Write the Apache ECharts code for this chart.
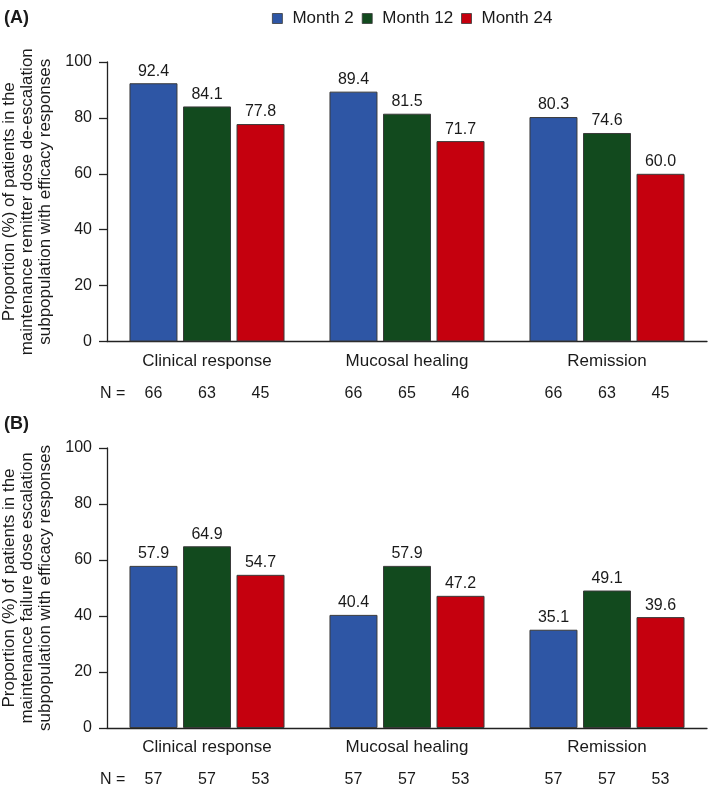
<!DOCTYPE html>
<html>
<head>
<meta charset="utf-8">
<script src="https://cdn.jsdelivr.net/npm/echarts@6/dist/echarts.min.js"></script>
<style>
html,body{margin:0;padding:0;background:#fff;}
#chart{width:709px;height:790px;}
</style>
</head>
<body>
<div id="chart"></div>
<script>
// ---- data ----
var categories = ['Clinical response', 'Mucosal healing', 'Remission'];
var seriesNames = ['Month 2', 'Month 12', 'Month 24'];
var yTicks = [0, 20, 40, 60, 80, 100];

var aMonth2  = [92.4, 89.4, 80.3];
var aMonth12 = [84.1, 81.5, 74.6];
var aMonth24 = [77.8, 71.7, 60.0];
var aN2  = [66, 66, 66];
var aN12 = [63, 65, 63];
var aN24 = [45, 46, 45];

var bMonth2  = [57.9, 40.4, 35.1];
var bMonth12 = [64.9, 57.9, 49.1];
var bMonth24 = [54.7, 47.2, 39.6];
var bN2  = [57, 57, 57];
var bN12 = [57, 57, 57];
var bN24 = [53, 53, 53];

var titleA = 'Proportion (%) of patients in the\nmaintenance remitter dose de-escalation\nsubpopulation with efficacy responses';
var titleB = 'Proportion (%) of patients in the\nmaintenance failure dose escalation\nsubpopulation with efficacy responses';

// ---- style ----
var FONT = '"Liberation Sans", Arial, Helvetica, sans-serif';
var TXT = '#1a1a1a';
var colors = ['#2E56A5', '#124A1E', '#C5000E'];
var BAR_W = 48, BAR_GAP = '11.5%';

var chart = echarts.init(document.getElementById('chart'), null, {renderer: 'canvas'});

function mkX(grid, show) {
  return {
    type: 'category', gridIndex: grid, data: categories, show: show,
    axisLine: {show: true, lineStyle: {color: '#222', width: 1.3}},
    axisTick: {show: false},
    axisLabel: {show: show, margin: 11, fontSize: 17, color: TXT, fontFamily: FONT}
  };
}
function mkY(grid, name) {
  return {
    type: 'value', gridIndex: grid, min: yTicks[0], max: yTicks[yTicks.length - 1], interval: 20,
    name: name, nameLocation: 'middle', nameRotate: 90, nameGap: 53,
    nameTextStyle: {fontSize: 17, lineHeight: 18, color: TXT, fontFamily: FONT, align: 'center'},
    axisLine: {show: true, lineStyle: {color: '#222', width: 1.3}},
    axisTick: {show: true, length: 8, lineStyle: {color: '#222', width: 1.3}},
    axisLabel: {margin: 15, fontSize: 16, color: TXT, fontFamily: FONT},
    splitLine: {show: false}
  };
}
function hiddenX(grid) {
  return {type: 'category', gridIndex: grid, data: categories, show: false};
}
function hiddenY(grid) {
  return {type: 'value', gridIndex: grid, min: 0, max: 100, show: false};
}
function barSeries(name, data, ci, xi, yi) {
  return {
    type: 'bar', name: name, data: data, xAxisIndex: xi, yAxisIndex: yi,
    barWidth: BAR_W, barGap: BAR_GAP,
    itemStyle: {color: colors[ci], borderColor: '#3a3a3a', borderWidth: 1},
    label: {show: true, position: 'top', distance: 4, fontSize: 16, color: TXT, fontFamily: FONT,
      formatter: function (p) { return p.value.toFixed(1); }},
    emphasis: {disabled: true}
  };
}
function nSeries(data, xi, yi) {
  return {
    type: 'bar', data: data, xAxisIndex: xi, yAxisIndex: yi,
    barWidth: BAR_W, barGap: BAR_GAP, silent: true,
    itemStyle: {color: 'rgba(0,0,0,0)', borderWidth: 0},
    label: {show: true, position: 'bottom', distance: 44, fontSize: 16, color: TXT, fontFamily: FONT,
      formatter: function (p) { return String(data[p.dataIndex]); }},
    emphasis: {disabled: true}
  };
}

var option = {
  animation: false,
  backgroundColor: '#fff',
  legend: {
    data: seriesNames, left: 267, top: 5,
    icon: 'rect', itemWidth: 10, itemHeight: 10, itemGap: 8,
    itemStyle: {borderColor: '#3a3a3a', borderWidth: 0.8},
    textStyle: {fontSize: 17, color: TXT, fontFamily: FONT, padding: [0, 0, 0, 5]},
    selectedMode: false
  },
  grid: [
    {left: 107, right: 2, top: 62, bottom: 448.5, containLabel: false, outerBoundsMode: 'none'},
    {left: 107, right: 2, top: 448, bottom: 62, containLabel: false, outerBoundsMode: 'none'}
  ],
  xAxis: [mkX(0, true), mkX(1, true), hiddenX(0), hiddenX(1)],
  yAxis: [mkY(0, titleA), mkY(1, titleB), hiddenY(0), hiddenY(1)],
  series: [
    barSeries(seriesNames[0], aMonth2, 0, 0, 0),
    barSeries(seriesNames[1], aMonth12, 1, 0, 0),
    barSeries(seriesNames[2], aMonth24, 2, 0, 0),
    barSeries(seriesNames[0], bMonth2, 0, 1, 1),
    barSeries(seriesNames[1], bMonth12, 1, 1, 1),
    barSeries(seriesNames[2], bMonth24, 2, 1, 1),
    nSeries(aN2, 2, 2), nSeries(aN12, 2, 2), nSeries(aN24, 2, 2),
    nSeries(bN2, 3, 3), nSeries(bN12, 3, 3), nSeries(bN24, 3, 3)
  ],
  graphic: [
    {type: 'text', left: 4, top: 9, style: {text: '(A)', font: 'bold 18px ' + FONT, fill: TXT}},
    {type: 'text', left: 4, top: 415, style: {text: '(B)', font: 'bold 18px ' + FONT, fill: TXT}},
    {type: 'text', left: 100, top: 386, style: {text: 'N =', font: '16px ' + FONT, fill: TXT}},
    {type: 'text', left: 100, top: 772, style: {text: 'N =', font: '16px ' + FONT, fill: TXT}}
  ]
};
chart.setOption(option);
</script>
</body>
</html>
